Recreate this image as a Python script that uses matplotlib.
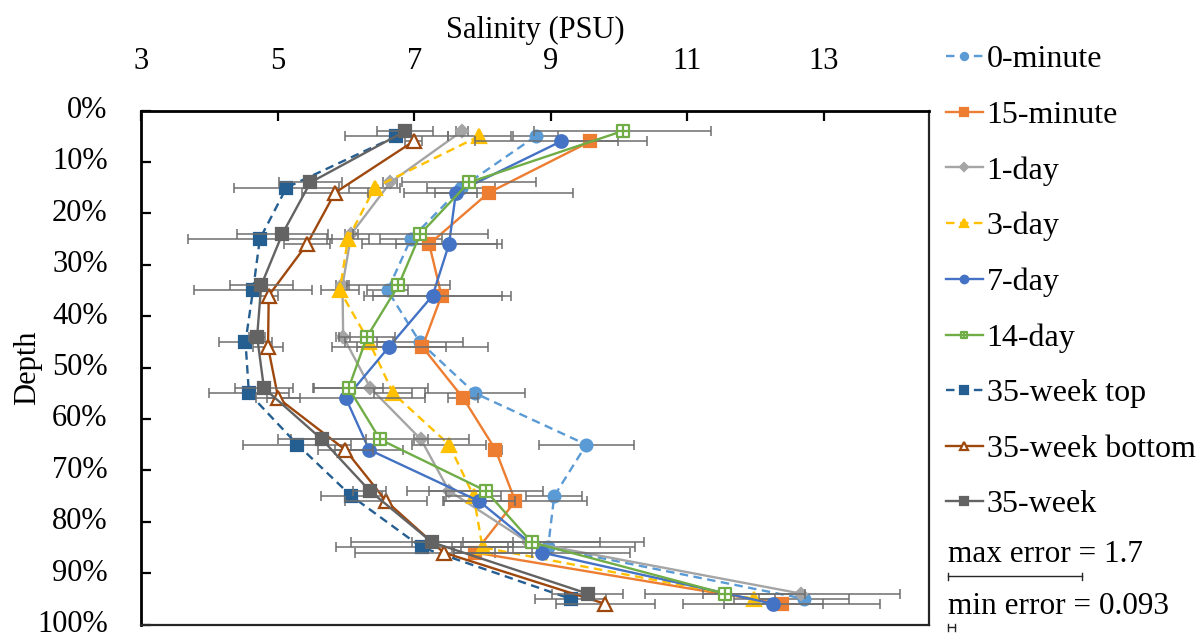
import matplotlib.pyplot as plt
from matplotlib.path import Path
from matplotlib.lines import Line2D

plt.rcParams['font.family'] = ['Liberation Serif', 'DejaVu Serif']

# depth (% of water column) for each sampling set
depth_a = [4, 14, 24, 34, 44, 54, 64, 74, 84, 94]
depth_b = [5, 15, 25, 35, 45, 55, 65, 75, 85, 95]
depth_c = [6, 16, 26, 36, 46, 56, 66, 76, 86, 96]

labels = ['0-minute', '15-minute', '1-day', '3-day', '7-day', '14-day',
          '35-week top', '35-week bottom', '35-week']

sal_0min = [8.78, 7.69, 6.95, 6.61, 7.08, 7.89, 9.52, 9.05, 8.96, 12.71]
sal_15min = [9.58, 8.09, 7.22, 7.40, 7.12, 7.72, 8.19, 8.48, 7.89, 12.38]
sal_1d = [7.70, 6.65, 6.08, 5.95, 5.96, 6.36, 7.10, 7.51, 8.67, 12.67]
sal_3d = [7.95, 6.42, 6.03, 5.91, 6.34, 6.69, 7.51, 7.87, 8.00, 11.98]
sal_7d = [9.15, 7.61, 7.51, 7.27, 6.63, 6.00, 6.34, 7.95, 8.87, 12.26]
sal_14d = [10.05, 7.80, 7.09, 6.77, 6.31, 6.04, 6.50, 8.05, 8.72, 11.55]
sal_35top = [6.74, 5.13, 4.74, 4.64, 4.53, 4.58, 5.29, 6.08, 7.11, 9.29]
sal_35bot = [6.99, 5.84, 5.43, 4.87, 4.86, 5.01, 5.99, 6.59, 7.43, 9.80]
sal_35wk = [6.87, 5.48, 5.07, 4.76, 4.70, 4.80, 5.65, 6.35, 7.26, 9.54]

err_0min = [0.33, 0.50, 0.45, 0.30, 0.63, 0.73, 0.70, 0.41, 1.27, 0.66]
err_15min = [0.41, 1.24, 0.99, 1.01, 0.96, 0.22, 0.10, 1.05, 0.30, 1.44]
err_1d = [0.093, 0.10, 0.10, 0.10, 0.10, 0.84, 0.10, 0.61, 1.70, 1.44]
err_3d = [0.46, 0.37, 0.31, 0.28, 0.35, 0.28, 0.54, 0.40, 0.45, 0.30]
err_7d = [1.26, 0.31, 0.77, 1.01, 0.84, 1.16, 0.50, 0.53, 1.29, 0.73]
err_14d = [1.29, 0.98, 0.99, 0.75, 0.41, 0.50, 1.30, 0.83, 1.00, 1.17]
err_35top = [0.76, 0.77, 1.05, 0.86, 0.39, 0.58, 0.79, 0.45, 1.26, 0.52]
err_35bot = [0.13, 0.48, 0.33, 0.13, 0.22, 0.32, 0.40, 0.60, 1.30, 0.73]
err_35wk = [0.41, 0.46, 0.67, 0.46, 0.12, 0.43, 0.65, 0.24, 1.18, 0.52]

max_err = 1.7
min_err = 0.093

# square with a plus inside, for the 14-day series
boxplus = Path([(-1, -1), (1, -1), (1, 1), (-1, 1), (-1, -1),
                (0, -1), (0, 1), (-1, 0), (1, 0)],
               [Path.MOVETO, Path.LINETO, Path.LINETO, Path.LINETO, Path.CLOSEPOLY,
                Path.MOVETO, Path.LINETO, Path.MOVETO, Path.LINETO])

dash = (0, (3.6, 2.3))
series = [
    (sal_0min, depth_b, err_0min, '#5B9BD5', dash, 'o', 8.5, '#5B9BD5'),
    (sal_15min, depth_c, err_15min, '#ED7D31', '-', 's', 9, '#ED7D31'),
    (sal_1d, depth_a, err_1d, '#A5A5A5', '-', 'D', 6.5, '#A5A5A5'),
    (sal_3d, depth_b, err_3d, '#FFC000', dash, '^', 9.5, '#FFC000'),
    (sal_7d, depth_c, err_7d, '#4472C4', '-', 'o', 9, '#4472C4'),
    (sal_14d, depth_a, err_14d, '#70AD47', '-', boxplus, 8, 'white'),
    (sal_35top, depth_b, err_35top, '#255E91', dash, 's', 8.5, '#255E91'),
    (sal_35bot, depth_c, err_35bot, '#9E480E', '-', '^', 9.5, 'white'),
    (sal_35wk, depth_a, err_35wk, '#636363', '-', 's', 9, '#636363'),
]

fig = plt.figure(figsize=(11.99, 6.35), dpi=100)
ax = fig.add_axes([141 / 1199, 1 - 624.5 / 635, 788 / 1199, 514 / 635])

handles = []
for i, (x, y, e, col, ls, mk, ms, fc) in enumerate(series):
    ax.errorbar(x, y, xerr=e, fmt='none', ecolor='#6e6e6e', elinewidth=1.1,
                capsize=3.5, capthick=1.1, zorder=2 + 2 * i)
    h, = ax.plot(x, y, color=col, linestyle=ls, linewidth=1.7, marker=mk,
                 markersize=ms, markerfacecolor=fc, markeredgecolor=col,
                 markeredgewidth=1.6, zorder=3 + 2 * i, label=labels[i])
    handles.append(h)

ax.set_xlim(3, 3 + 788 / 68.3)
ax.set_ylim(100, 0)
ax.set_xticks([3, 5, 7, 9, 11, 13])
ax.set_yticks(range(0, 101, 10))
ax.set_yticklabels([f'{v}%' for v in range(0, 101, 10)], va='center')
ax.xaxis.tick_top()
ax.xaxis.set_label_position('top')
ax.tick_params(axis='x', direction='in', length=7, width=1.6, labelsize=22, pad=25)
ax.tick_params(axis='y', direction='in', length=7, width=1.6, labelsize=22, pad=24)
ax.set_xlabel('Salinity (PSU)', fontsize=22, labelpad=6)
ax.set_ylabel('Depth', fontsize=22, labelpad=-4)
for side in ['left', 'top']:
    ax.spines[side].set_linewidth(2)
for side in ['right', 'bottom']:
    ax.spines[side].set_linewidth(1.6)
    ax.spines[side].set_color('#262626')

ax.legend(handles=handles, loc='upper left', bbox_to_anchor=(946 / 1199, 1 - 45 / 635),
          bbox_transform=fig.transFigure, frameon=False, fontsize=23,
          handlelength=1.15, handletextpad=0.12, labelspacing=0.82,
          borderpad=0, borderaxespad=0, markerscale=0.6)

# error size key below the legend
px_per_unit = 134 / max_err
for txt, err, ty, by in [(f'max error = {max_err:g}', max_err, 555, 576),
                          (f'min error = {min_err:g}', min_err, 607, 627)]:
    fig.text(948 / 1199, 1 - ty / 635, txt, fontsize=22.5, va='center', ha='left')
    x0, x1 = 948 / 1199, (948 + err * px_per_unit) / 1199
    yb = 1 - by / 635
    fig.add_artist(Line2D([x0, x1], [yb, yb], color='#262626', linewidth=1))
    for xc in (x0, x1):
        fig.add_artist(Line2D([xc, xc], [yb - 3.5 / 635, yb + 3.5 / 635],
                              color='#262626', linewidth=1))

fig.savefig('out.png', dpi=100)
